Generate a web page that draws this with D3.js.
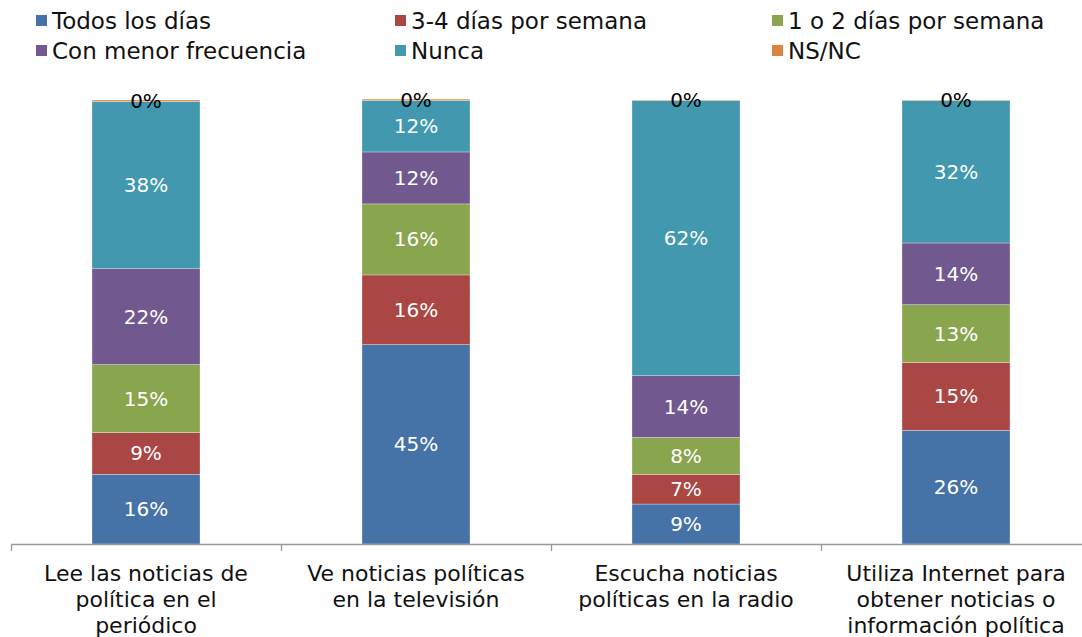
<!DOCTYPE html>
<html>
<head>
<meta charset="utf-8">
<script src="https://cdn.jsdelivr.net/npm/d3@7"></script>
<style>
  body { margin: 0; background: #fff; }
  svg { font-family: "DejaVu Sans", sans-serif; }
</style>
</head>
<body>
<svg id="chart" width="1082" height="637"></svg>
<script>
// categories (one line per array entry)
var categories = [
  ["Lee las noticias de", "política en el", "periódico"],
  ["Ve noticias políticas", "en la televisión"],
  ["Escucha noticias", "políticas en la radio"],
  ["Utiliza Internet para", "obtener noticias o", "información política"]
];
var seriesNames = ["Todos los días", "3-4 días por semana", "1 o 2 días por semana",
                   "Con menor frecuencia", "Nunca", "NS/NC"];
var colors = ["#4572A7", "#AA4643", "#89A54E", "#71588F", "#4198AF", "#DB843D"];

// percentages per category, bottom to top
var todos   = [15.7, 44.9, 9.0, 25.6];
var tresCua = [9.4, 15.7, 6.7, 15.3];
var unoDos  = [15.3, 16.0, 8.3, 13.0];
var menor   = [21.6, 11.7, 13.9, 13.9];
var nunca   = [37.7, 11.6, 62.0, 32.1];
var nsnc    = [0.3, 0.3, 0.1, 0.1];
var series = [todos, tresCua, unoDos, menor, nunca, nsnc];

var svg = d3.select("#chart");

var x = d3.scaleBand()
  .domain(d3.range(categories.length))
  .range([11, 1091])
  .paddingInner(0.6)
  .paddingOuter(0.3);
var y = d3.scaleLinear().domain([0, 100]).range([544, 100]);

// stack data
var rows = categories.map(function(c, i) {
  var r = {i: i};
  series.forEach(function(s, k) { r[k] = s[i]; });
  return r;
});
var stacked = d3.stack().keys(d3.range(series.length))(rows);

var g = svg.append("g");
var layers = g.selectAll("g.layer")
  .data(stacked)
  .enter().append("g")
  .attr("class", "layer")
  .attr("fill", function(d, k) { return colors[k]; });

layers.selectAll("rect")
  .data(function(d) { return d; })
  .enter().append("rect")
  .attr("x", function(d) { return x(d.data.i); })
  .attr("y", function(d) { return y(d[1]); })
  .attr("width", x.bandwidth())
  .attr("height", function(d) { return y(d[0]) - y(d[1]); })
  .attr("stroke", "rgba(255,255,255,0.5)")
  .attr("stroke-width", 0.6);

// value labels
layers.each(function(layer, k) {
  d3.select(this).selectAll("text")
    .data(layer)
    .enter().append("text")
    .attr("x", function(d) { return x(d.data.i) + x.bandwidth() / 2; })
    .attr("y", function(d) { return (y(d[0]) + y(d[1])) / 2; })
    .attr("dy", "0.35em")
    .attr("text-anchor", "middle")
    .attr("font-size", 20)
    .attr("fill", k === 5 ? "#000" : "#fff")
    .text(function(d) { return Math.round(d[1] - d[0]) + "%"; });
});

// axis
var ax = g.append("g");
ax.append("line")
  .attr("x1", 11).attr("x2", 1082)
  .attr("y1", 544.5).attr("y2", 544.5)
  .attr("stroke", "#999").attr("stroke-width", 1.3);
var step = x.step();
d3.range(categories.length + 1).forEach(function(i) {
  var tx = Math.round(11 + i * step) + 0.5;
  ax.append("line")
    .attr("x1", tx).attr("x2", tx)
    .attr("y1", 544).attr("y2", 551)
    .attr("stroke", "#999").attr("stroke-width", 1.3);
});
var labels = ax.selectAll("text.cat")
  .data(categories)
  .enter().append("text")
  .attr("class", "cat")
  .attr("text-anchor", "middle")
  .attr("font-size", 22)
  .attr("fill", "#111")
  .attr("transform", function(d, i) { return "translate(" + (x(i) + x.bandwidth() / 2) + ",581)"; });
labels.selectAll("tspan")
  .data(function(d) { return d; })
  .enter().append("tspan")
  .attr("x", 0)
  .attr("dy", function(d, j) { return j === 0 ? 0 : 26; })
  .text(function(d) { return d; });

// legend
var legX = [36, 395, 772];
var legend = svg.append("g").selectAll("g")
  .data(seriesNames)
  .enter().append("g")
  .attr("transform", function(d, k) {
    return "translate(" + legX[k % 3] + "," + (k < 3 ? 21 : 51) + ")";
  });
legend.append("rect")
  .attr("x", 0).attr("y", -6)
  .attr("width", 11).attr("height", 11)
  .attr("fill", function(d, k) { return colors[k]; });
legend.append("text")
  .attr("x", 16).attr("dy", "0.35em")
  .attr("font-size", 23)
  .attr("fill", "#111")
  .text(function(d) { return d; });
</script>
</body>
</html>
